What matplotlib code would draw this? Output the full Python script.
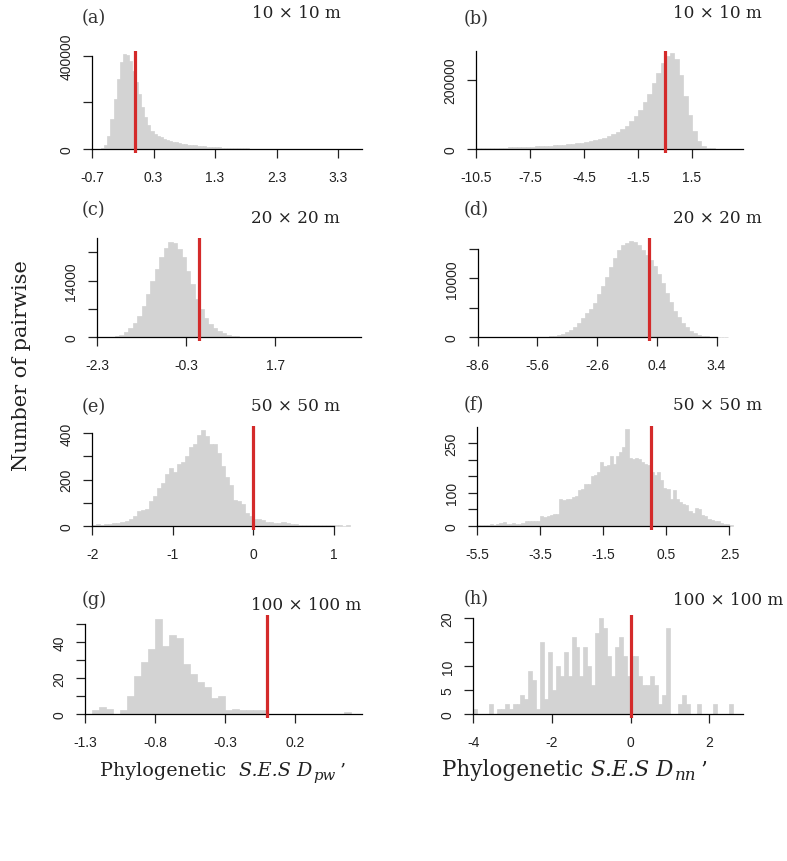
import numpy as np
import matplotlib
matplotlib.use("Agg")
import matplotlib.pyplot as plt

W, H = 787, 862
RED = '#d42a2a'
GREY = '#d3d3d3'
TICKFONT = 'Liberation Sans'
SERIF = 'DejaVu Serif'

# ---------------- values ----------------
# (a) Dpw, 10 x 10 m
a_start, a_width = -0.55, 0.05
a_counts = [4000, 17000, 57000, 129000, 215000, 301000, 373000, 409000, 404000, 380000,
            337000, 287000, 237000, 179000, 136000, 103000, 79000, 65000, 57000, 50000,
            44000, 40000, 36000, 32000, 29000, 26000, 23000, 21000, 19000, 17000,
            15500, 14000, 12500, 11000, 10000, 9000, 8000, 7200, 6500, 5800,
            5200, 4600, 4100, 3700, 3300, 3000, 2700, 2400, 2100, 1900,
            1700, 1500, 1300, 1150, 1000, 900, 800, 700, 600, 500,
            450, 400, 350, 300, 250, 200, 180, 160, 140, 120,
            100, 80, 60, 50, 40, 30, 20, 20, 10, 10]
a_obs = 0.0
a_xticks = [-0.7, 0.3, 1.3, 2.3, 3.3]
a_yticks = [0, 200000, 400000]
a_ylabels = ['0', '', '400000']

# (b) Dnn, 10 x 10 m
b_start, b_width = -10.5, 0.25
b_counts = [3000, 3200, 3400, 3600, 3800, 4000, 4300, 4600, 5000, 5400,
            5800, 6300, 6800, 7400, 8000, 8700, 9500, 10400, 11400, 12500,
            13800, 15200, 16800, 18600, 20700, 23000, 25800, 29000, 33000, 37500,
            43000, 50000, 58000, 68000, 80000, 95000, 113000, 135000, 160000, 190000,
            220000, 250000, 270000, 278000, 262000, 215000, 155000, 98000, 52000, 24000,
            10000, 4000, 1500, 400]
b_obs = 0.0
b_xticks = [-10.5, -7.5, -4.5, -1.5, 1.5]
b_yticks = [0, 200000]
b_ylabels = ['0', '200000']

# (c) Dpw, 20 x 20 m
c_start, c_width = -2.0, 0.1
c_counts = [100, 250, 580, 1300, 2300, 3500, 5350, 7800, 10700, 14000,
            16900, 19800, 22100, 23500, 23300, 21800, 19800, 16300, 13200, 9500,
            7000, 4800, 3300, 2300, 1650, 1070, 660, 410, 250, 160,
            100, 65, 40, 25, 15, 10, 6, 4, 2, 1]
c_obs = 0.0
c_xticks = [-2.3, -0.3, 1.7]
c_yticks = [0, 7000, 14000, 21000]
c_ylabels = ['0', '', '14000', '']

# (d) Dnn, 20 x 20 m
d_start, d_width = -7.2, 0.2
d_counts = [1, 2, 3, 5, 8, 12, 20, 30, 50, 80,
            120, 180, 280, 420, 620, 900, 1300, 1800, 2500, 3300,
            4100, 4800, 5900, 7300, 8800, 10300, 11900, 13500, 14800, 15700,
            16100, 16300, 16200, 15600, 14800, 13900, 13200, 12100, 10700, 9300,
            7600, 6000, 4500, 3400, 2500, 1700, 1100, 720, 450, 280,
            170, 100, 55, 30, 15, 8]
d_obs = 0.0
d_xticks = [-8.6, -5.6, -2.6, 0.4, 3.4]
d_yticks = [0, 5000, 10000, 15000]
d_ylabels = ['0', '', '10000', '']

# (e) Dpw, 50 x 50 m
e_start, e_width = -2.0, 0.05
e_counts = [5, 7, 4, 6, 8, 10, 13, 17, 22, 30,
            40, 62, 66, 72, 105, 130, 165, 185, 225, 250,
            232, 268, 278, 300, 340, 355, 395, 413, 390, 355,
            352, 315, 260, 212, 175, 110, 105, 95, 55, 42,
            30, 27, 25, 18, 15, 12, 10, 14, 12, 8,
            6, 5, 4, 4, 3, 3, 2, 2, 2, 1,
            1, 1, 0, 1]
e_obs = 0.0
e_xticks = [-2, -1, 0, 1]
e_yticks = [0, 100, 200, 300, 400]
e_ylabels = ['0', '', '200', '', '400']

# (f) Dnn, 50 x 50 m
f_start, f_width = -5.5, 0.1
f_counts = [3, 3, 2, 3, 4, 3, 4, 8, 10, 6,
            6, 7, 6, 6, 9, 14, 14, 15, 13, 14,
            28, 26, 30, 33, 37, 36, 81, 78, 80, 82,
            87, 90, 108, 112, 126, 128, 150, 155, 162, 195,
            182, 183, 212, 187, 212, 225, 240, 293, 205, 203,
            207, 203, 192, 188, 185, 162, 155, 163, 140, 113,
            110, 82, 107, 80, 72, 65, 62, 45, 40, 53,
            50, 32, 28, 20, 18, 15, 13, 8, 6, 4,
            2]
f_obs = 0.0
f_xticks = [-5.5, -3.5, -1.5, 0.5, 2.5]
f_yticks = [0, 50, 100, 150, 200, 250]
f_ylabels = ['0', '', '100', '', '', '250']

# (g) Dpw, 100 x 100 m
g_start, g_width = -1.3, 0.05
g_counts = [0, 2, 4, 3, 0, 2, 10, 21, 29, 36,
            53, 38, 44, 42, 28, 22, 18, 15, 9, 10,
            2, 3, 2, 2, 2, 2, 0, 0, 0, 0,
            0, 0, 0, 0, 0, 0, 0, 1]
g_obs = 0.0
g_xticks = [-1.3, -0.8, -0.3, 0.2]
g_yticks = [0, 10, 20, 30, 40, 50]
g_ylabels = ['0', '', '20', '', '40', '']

# (h) Dnn, 100 x 100 m
h_start, h_width = -4.0, 0.1
h_counts = [1, 0, 0, 0, 2, 0, 1, 1, 2, 1,
            2, 2, 4, 3, 9, 7, 1, 15, 3, 13,
            5, 10, 8, 13, 8, 16, 14, 8, 14, 10,
            6, 17, 20, 18, 12, 8, 14, 16, 12, 8,
            12, 12, 8, 6, 6, 8, 6, 2, 4, 18,
            0, 0, 2, 4, 2, 0, 0, 2, 0, 0,
            0, 2, 0, 0, 0, 2]
h_obs = 0.0
h_xticks = [-4, -2, 0, 2]
h_yticks = [0, 5, 10, 15, 20]
h_ylabels = ['0', '5', '10', '', '20']

letters = ['(a)', '(b)', '(c)', '(d)', '(e)', '(f)', '(g)', '(h)']
titles = ['10 × 10 m', '10 × 10 m', '20 × 20 m', '20 × 20 m',
          '50 × 50 m', '50 × 50 m', '100 × 100 m', '100 × 100 m']

panels = [
    (a_start, a_width, a_counts, a_obs, a_xticks, a_yticks, a_ylabels),
    (b_start, b_width, b_counts, b_obs, b_xticks, b_yticks, b_ylabels),
    (c_start, c_width, c_counts, c_obs, c_xticks, c_yticks, c_ylabels),
    (d_start, d_width, d_counts, d_obs, d_xticks, d_yticks, d_ylabels),
    (e_start, e_width, e_counts, e_obs, e_xticks, e_yticks, e_ylabels),
    (f_start, f_width, f_counts, f_obs, f_xticks, f_yticks, f_ylabels),
    (g_start, g_width, g_counts, g_obs, g_xticks, g_yticks, g_ylabels),
    (h_start, h_width, h_counts, h_obs, h_xticks, h_yticks, h_ylabels),
]

# ---------------- layout (pixels of the 787x862 figure) ----------------
# box = left, right, top, zero-line ; limits ; spine bounds
layout = [
    dict(box=(92, 362, 52, 150), xlim=(-0.7, 3.69), ylim=(-17200, 421500), xs=(-0.7, 3.69), ys=(0, 400000)),
    dict(box=(476, 743, 52, 150), xlim=(-10.5, 4.33), ylim=(-11600, 284000), xs=(-10.5, 4.33), ys=(0, 284000)),
    dict(box=(97, 361, 239.3, 338.3), xlim=(-2.3, 3.63), ylim=(-990, 24460), xs=(-2.3, 3.63), ys=(0, 24460)),
    dict(box=(477.7, 743, 239.3, 338.3), xlim=(-8.6, 4.73), ylim=(-680, 16820), xs=(-8.6, 3.4), ys=(0, 15000)),
    dict(box=(92.3, 362, 427.3, 526.7), xlim=(-2.0, 1.35), ylim=(-17.3, 430.8), xs=(-2.0, 1.0), ys=(0, 400)),
    dict(box=(477.3, 743, 427.3, 526.7), xlim=(-5.5, 2.93), ylim=(-12.2, 302), xs=(-5.5, 2.5), ys=(0, 300)),
    dict(box=(85, 362, 615.7, 715), xlim=(-1.3, 0.68), ylim=(-2.2, 55.2), xs=(-1.3, 0.68), ys=(0, 50)),
    dict(box=(473.3, 743, 615.7, 714.7), xlim=(-4.0, 2.86), ylim=(-0.84, 20.75), xs=(-4.0, 2.86), ys=(0, 20)),
]
letter_pos = [(82, 18), (464, 19), (82, 210), (464, 210), (82, 407), (464, 405), (82, 600), (464, 599)]
title_pos = [(251.7, 18), (672.7, 18), (251, 223.3), (672.7, 223.3),
             (251, 410.7), (672.7, 410), (251, 610), (672.7, 605)]

fig = plt.figure(figsize=(W / 100, H / 100), dpi=100)

for i, (start, width, counts, obs, xticks, yticks, ylabels) in enumerate(panels):
    L, R, T, Z = layout[i]['box']
    B = Z + 4
    ax = fig.add_axes([L / W, 1 - B / H, (R - L) / W, (B - T) / H])
    edges = start + width * np.arange(len(counts))
    ax.bar(edges, counts, width=width, align='edge', color=GREY,
           edgecolor=GREY, linewidth=0.5, zorder=1)
    ax.axvline(obs, color=RED, lw=2.3, zorder=4)
    ax.set_xlim(*layout[i]['xlim'])
    ax.set_ylim(*layout[i]['ylim'])

    for s in ['top', 'right']:
        ax.spines[s].set_visible(False)
    ax.spines['bottom'].set_position(('data', 0))
    ax.spines['bottom'].set_bounds(*layout[i]['xs'])
    ax.spines['left'].set_bounds(*layout[i]['ys'])
    for s in ['bottom', 'left']:
        ax.spines[s].set_linewidth(0.9)
        ax.spines[s].set_zorder(3)

    ax.set_xticks(xticks)
    ax.set_xticklabels([f'{t:g}' for t in xticks], fontfamily=TICKFONT)
    ax.set_yticks(yticks)
    ax.set_yticklabels(ylabels, fontfamily=TICKFONT, rotation=90,
                       va='center', ha='right')
    ax.tick_params(axis='x', pad=8.5)
    ax.tick_params(axis='y', pad=7)
    ax.tick_params(length=6.5, width=0.9, labelsize=10, color='#222222',
                   labelcolor='#222222')
    ax.patch.set_visible(False)

    lx, ly = letter_pos[i]
    fig.text(lx / W, 1 - ly / H, letters[i], family=SERIF, fontsize=12.8,
             ha='left', va='center', color='#333333')
    tx, ty = title_pos[i]
    fig.text(tx / W, 1 - ty / H, titles[i], family=SERIF, fontsize=12.2,
             ha='left', va='baseline', color='#222222')

fig.text(22 / W, 1 - 366 / H, 'Number of pairwise', family=SERIF, fontsize=15,
         rotation=90, ha='center', va='center', color='#222222')

# x labels built piece by piece so "S.E.S" stays compact
renderer = fig.canvas.get_renderer()


def label_row(x0, base, size, lead, sub):
    pieces = [(lead, 'normal', size, 0, 1),
              ('S.E.S D', 'italic', size, 0, 1),
              (sub, 'italic', size * 0.78, 4, 4),
              ('\u2019', 'normal', size, 0, 0)]
    x = x0
    for txt, style, fs, drop, gap in pieces:
        t = fig.text(x / W, 1 - (base + drop) / H, txt, family=SERIF,
                     fontstyle=style, fontsize=fs, ha='left', va='baseline',
                     color='#222222')
        x = t.get_window_extent(renderer).x1 + gap


label_row(100, 776, 13.8, 'Phylogenetic  ', 'pw')
label_row(442, 776, 15.5, 'Phylogenetic ', 'nn')

fig.savefig('out.png', dpi=100)
